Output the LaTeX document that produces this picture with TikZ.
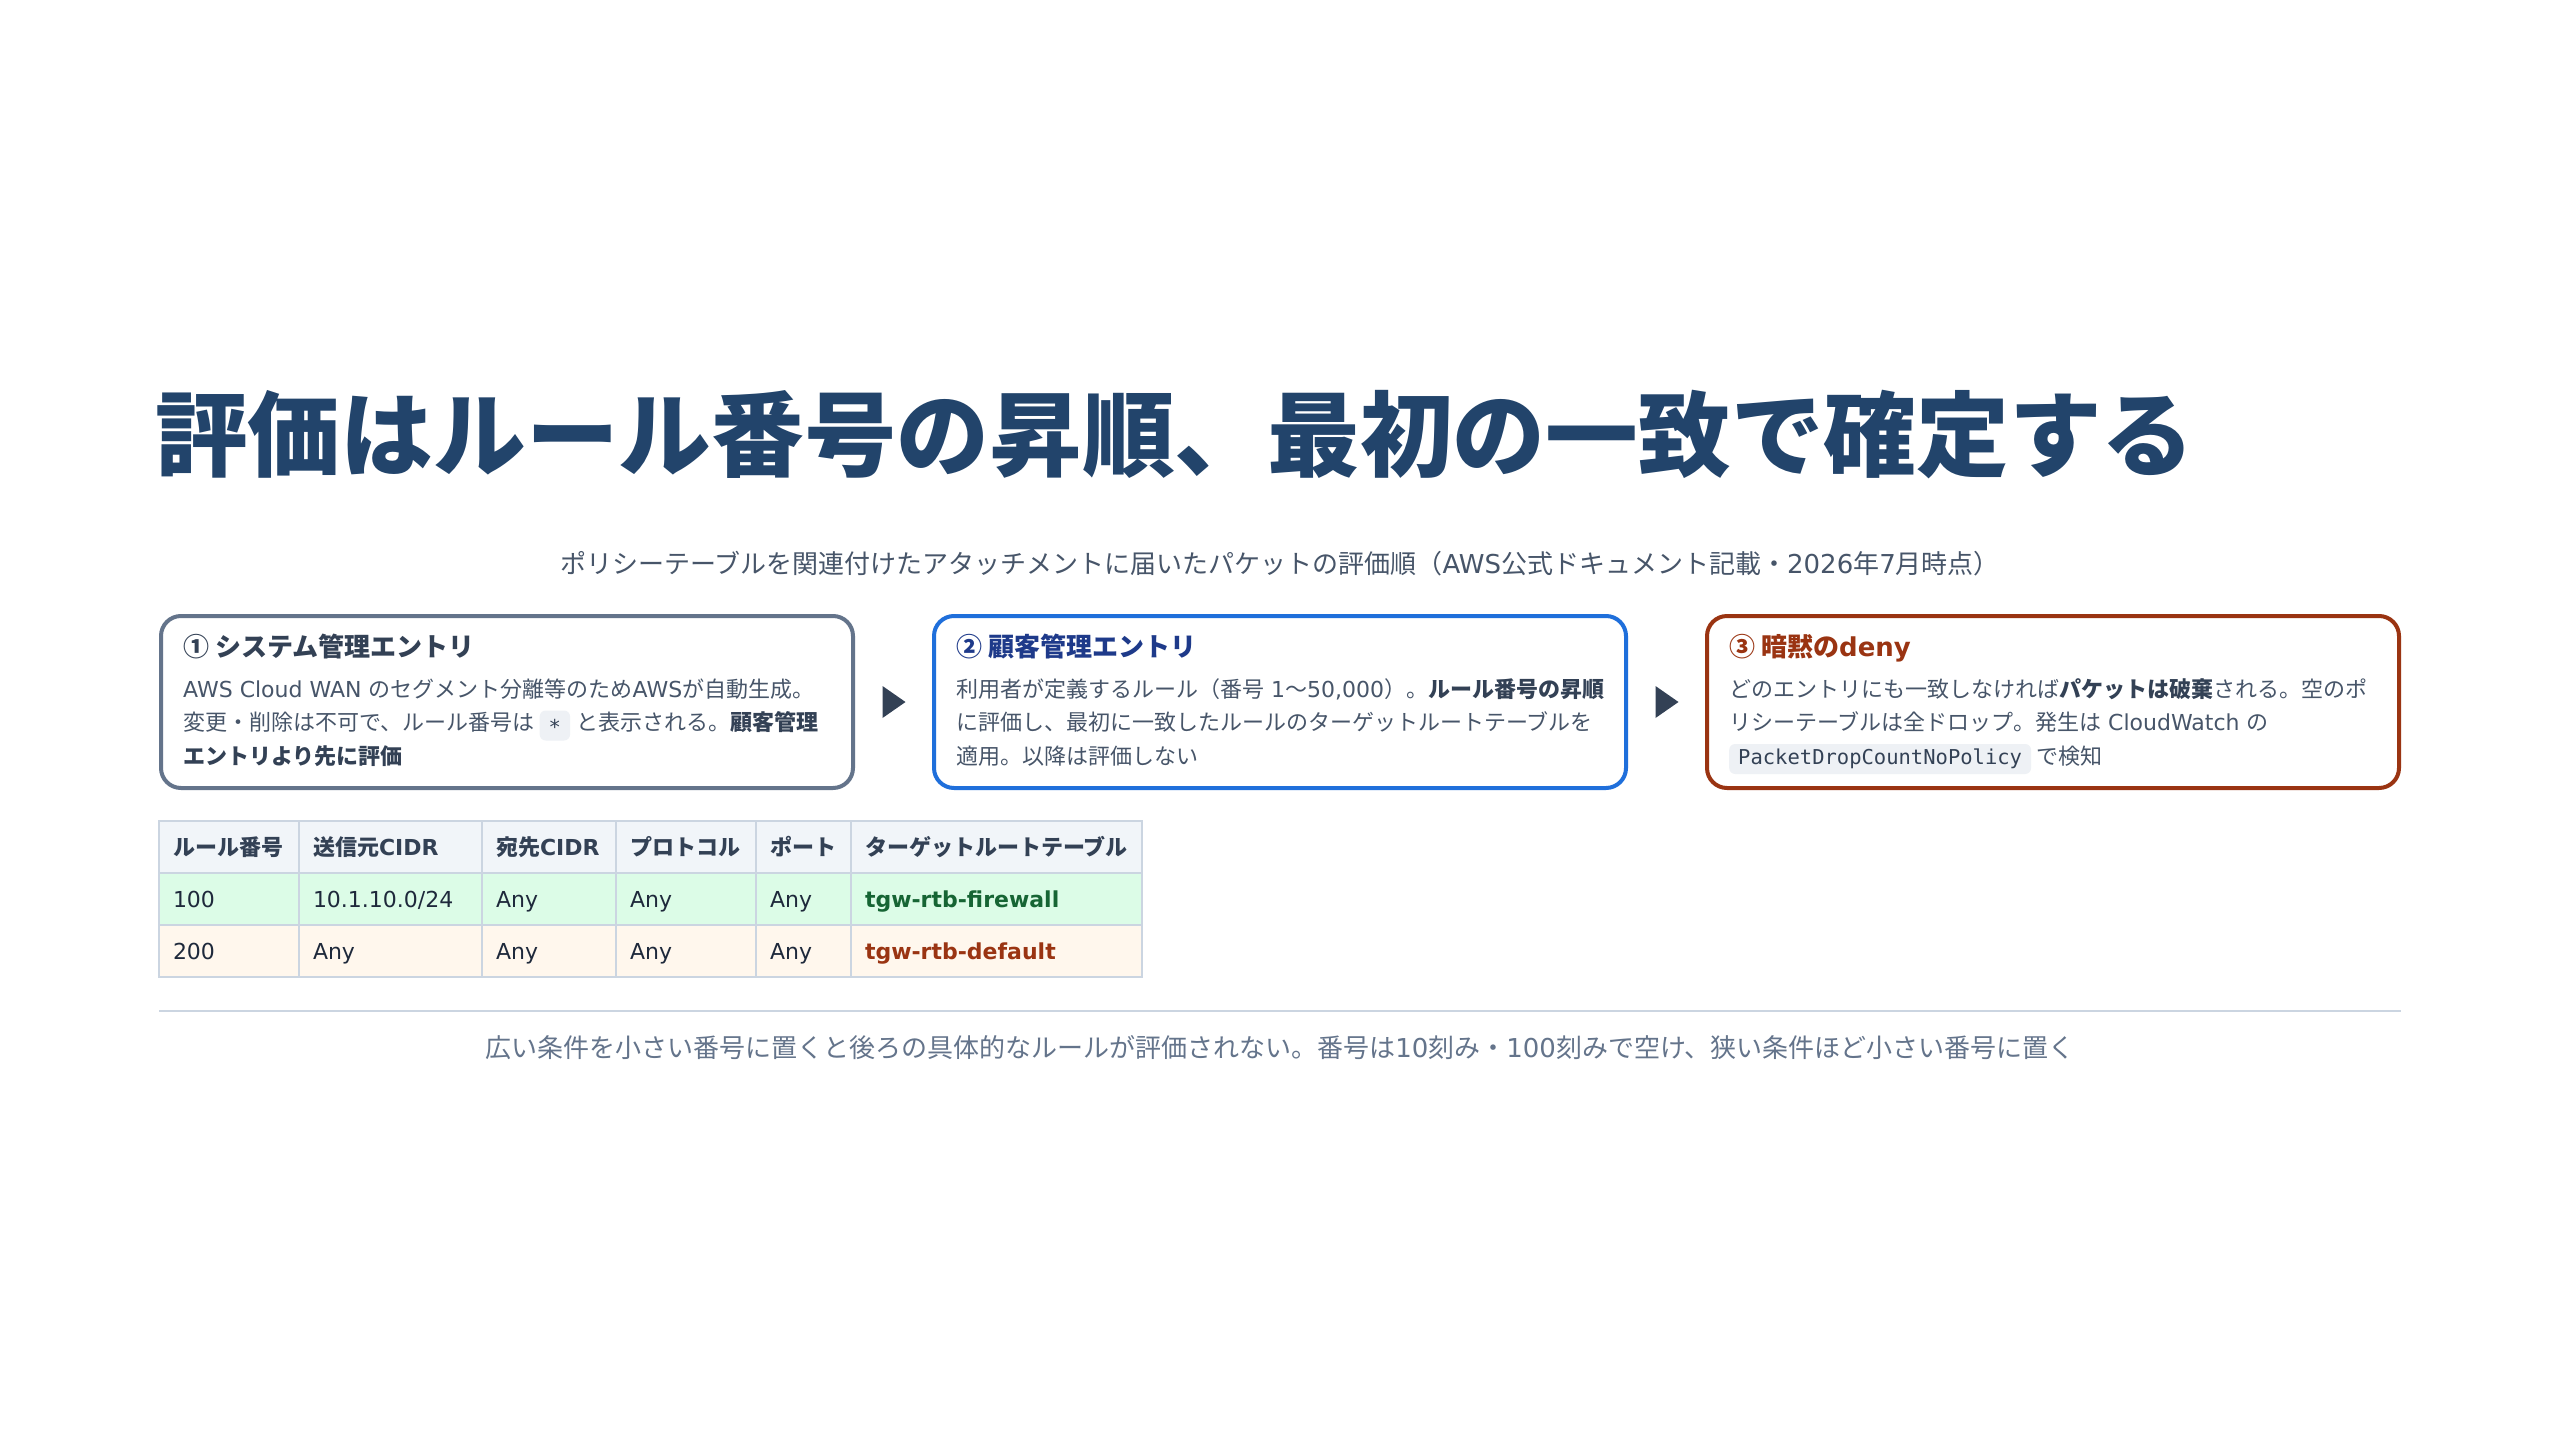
\documentclass[tikz,border=0pt]{standalone}
\usepackage{fontspec}
\setmainfont{Noto Sans CJK JP}
\setmonofont{DejaVu Sans Mono}
\newfontfamily\latinfont{DejaVu Sans}
\usetikzlibrary{calc}

\definecolor{titlecol}{HTML}{22446B}
\definecolor{subcol}{HTML}{475569}
\definecolor{bodycol}{HTML}{475569}
\definecolor{strongcol}{HTML}{334155}
\definecolor{sysline}{HTML}{64748B}
\definecolor{custline}{HTML}{1F6FDB}
\definecolor{custtext}{HTML}{1E3A8A}
\definecolor{denyline}{HTML}{9A3412}
\definecolor{chipbg}{HTML}{EEF1F5}
\definecolor{tipcol}{HTML}{334155}
\definecolor{gridcol}{HTML}{CBD5E1}
\definecolor{headbg}{HTML}{F1F5F9}
\definecolor{okbg}{HTML}{DCFCE7}
\definecolor{okcol}{HTML}{166534}
\definecolor{defbg}{HTML}{FFF7ED}
\definecolor{celltext}{HTML}{1E293B}
\definecolor{footcol}{HTML}{64748B}

\newcommand{\setfs}[2]{\fontsize{#1}{#2}\selectfont}
\newcommand{\kw}[1]{\textbf{\color{strongcol}#1}}
\newcommand{\en}[1]{{\latinfont#1}}

\begin{document}
\begin{tikzpicture}[x=1pt, y=-1pt,
	pagetitle/.style={anchor=base west, inner sep=0pt, text=titlecol, font=\bfseries\setfs{92.7}{110}},
	subline/.style={anchor=base, inner sep=0pt, text=subcol, font=\setfs{26}{32}},
	stepcard/.style={draw=#1, line width=4pt, rounded corners=20pt, fill=white, minimum width=692pt, minimum height=172pt},
	cardtitle/.style={anchor=base west, inner sep=0pt, text=#1, font=\bfseries\setfs{26}{30}},
	cardline/.style={anchor=base west, inner sep=0pt, text=bodycol, font=\setfs{22}{33}},
	chip/.style={anchor=base west, fill=chipbg, rounded corners=6pt, inner xsep=9pt, inner ysep=5pt, text height=15pt, text depth=5pt, text=strongcol, font=\ttfamily\setfs{20.5}{24}},
	flowtip/.style={fill=tipcol},
	cell/.style={anchor=north west, draw=gridcol, line width=1.5pt, outer sep=0pt, inner xsep=14pt, inner ysep=0pt, minimum height=52pt, text height=19.4pt, text depth=2.6pt, align=left, text width=#1},
	headcell/.style={cell=#1, fill=headbg, text=strongcol, font=\bfseries\setfs{22}{26}},
	okcell/.style={cell=#1, fill=okbg, text=celltext, font=\latinfont\setfs{22}{26}},
	defcell/.style={cell=#1, fill=defbg, text=celltext, font=\latinfont\setfs{22}{26}},
	sepline/.style={draw=gridcol, line width=2pt},
	footline/.style={anchor=base, inner sep=0pt, text=footcol, font=\setfs{26}{32}}]
	\path[use as bounding box, fill=white] (0,0) rectangle (2560,1440);

	% Heading
	\node[pagetitle] (title) at (155,469) {評価はルール番号の昇順、最初の一致で確定する};
	\node[subline] (subtitle) at (1280,573) {ポリシーテーブルを関連付けたアタッチメントに届いたパケットの評価順（\en{AWS}公式ドキュメント記載・\en{2026}年\en{7}月時点）};

	% Evaluation steps
	\node[stepcard=sysline] (sys_box) at (507,702) {};
	\node[stepcard=custline] (cust_box) at (1280,702) {};
	\node[stepcard=denyline] (deny_box) at (2053,702) {};

	% Step 1: system entries
	\node[cardtitle=strongcol] (sys_title) at ([shift={(24,42.5)}]sys_box.north west) {①\hspace{6pt}システム管理エントリ};
	\node[cardline] (sys_l1) at ([shift={(24,83)}]sys_box.north west) {\en{AWS Cloud WAN }のセグメント分離等のため\en{AWS}が自動生成。};
	\node[cardline] (sys_l2a) at ([shift={(24,116.5)}]sys_box.north west) {変更・削除は不可で、ルール番号は};
	\node[chip] (sys_chip) at ([xshift=5pt]sys_l2a.base east) {\raisebox{-4pt}{*}};
	\node[cardline] (sys_l2b) at ([xshift=6pt]sys_chip.base east) {と表示される。\kw{顧客管理}};
	\node[cardline] (sys_l3) at ([shift={(24,150)}]sys_box.north west) {\kw{エントリより先に評価}};

	% Step 2: customer entries
	\node[cardtitle=custtext] (cust_title) at ([shift={(24,42.5)}]cust_box.north west) {②\hspace{6pt}顧客管理エントリ};
	\node[cardline] (cust_l1) at ([shift={(24,83)}]cust_box.north west) {利用者が定義するルール（番号\en{ 1}〜\en{50,000}）。\kw{ルール番号の昇順}};
	\node[cardline] (cust_l2) at ([shift={(24,116.5)}]cust_box.north west) {に評価し、最初に一致したルールのターゲットルートテーブルを};
	\node[cardline] (cust_l3) at ([shift={(24,150)}]cust_box.north west) {適用。以降は評価しない};

	% Step 3: implicit deny
	\node[cardtitle=denyline] (deny_title) at ([shift={(24,42.5)}]deny_box.north west) {③\hspace{6pt}暗黙の\en{deny}};
	\node[cardline] (deny_l1) at ([shift={(24,83)}]deny_box.north west) {どのエントリにも一致しなければ\kw{パケットは破棄}される。空のポ};
	\node[cardline] (deny_l2) at ([shift={(24,116.5)}]deny_box.north west) {リシーテーブルは全ドロップ。発生は\en{ CloudWatch }の};
	\node[chip] (deny_chip) at ([shift={(24,150)}]deny_box.north west) {PacketDropCountNoPolicy};
	\node[cardline] (deny_l3) at ([xshift=5pt]deny_chip.base east) {で検知};

	% Order markers
	\coordinate (gap_a) at ($(sys_box.east)!0.5!(cust_box.west)$);
	\coordinate (gap_b) at ($(cust_box.east)!0.5!(deny_box.west)$);
	\fill[flowtip] ([shift={(-11,-16)}]gap_a) -- ([shift={(12,0)}]gap_a) -- ([shift={(-11,16)}]gap_a) -- cycle;
	\fill[flowtip] ([shift={(-11,-16)}]gap_b) -- ([shift={(12,0)}]gap_b) -- ([shift={(-11,16)}]gap_b) -- cycle;

	% Rule table header
	\node[headcell=112pt] (h_no) at (159,821) {ルール番号};
	\node[headcell=155pt] (h_src) at (h_no.north east) {送信元\en{CIDR}};
	\node[headcell=106pt] (h_dst) at (h_src.north east) {宛先\en{CIDR}};
	\node[headcell=112pt] (h_proto) at (h_dst.north east) {プロトコル};
	\node[headcell=67pt] (h_port) at (h_proto.north east) {ポート};
	\node[headcell=263pt] (h_rt) at (h_port.north east) {ターゲットルートテーブル};

	% Rule 100
	\node[okcell=112pt] (a_no) at (h_no.south west) {100};
	\node[okcell=155pt] (a_src) at (a_no.north east) {10.1.10.0/24};
	\node[okcell=106pt] (a_dst) at (a_src.north east) {Any};
	\node[okcell=112pt] (a_proto) at (a_dst.north east) {Any};
	\node[okcell=67pt] (a_port) at (a_proto.north east) {Any};
	\node[okcell=263pt, text=okcol, font=\latinfont\bfseries\setfs{22}{26}] (a_rt) at (a_port.north east) {tgw-rtb-firewall};

	% Rule 200
	\node[defcell=112pt] (b_no) at (a_no.south west) {200};
	\node[defcell=155pt] (b_src) at (b_no.north east) {Any};
	\node[defcell=106pt] (b_dst) at (b_src.north east) {Any};
	\node[defcell=112pt] (b_proto) at (b_dst.north east) {Any};
	\node[defcell=67pt] (b_port) at (b_proto.north east) {Any};
	\node[defcell=263pt, text=denyline, font=\latinfont\bfseries\setfs{22}{26}] (b_rt) at (b_port.north east) {tgw-rtb-default};

	% Note
	\coordinate (rule_l) at (159,1011);
	\coordinate (rule_r) at (2401,1011);
	\draw[sepline] (rule_l) -- (rule_r);
	\node[footline] (footer) at (1280,1057) {広い条件を小さい番号に置くと後ろの具体的なルールが評価されない。番号は\en{10}刻み・\en{100}刻みで空け、狭い条件ほど小さい番号に置く};
\end{tikzpicture}
\end{document}
